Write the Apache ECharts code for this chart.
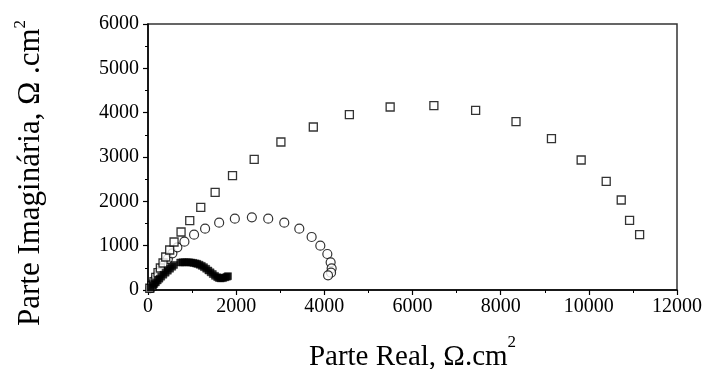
<!DOCTYPE html>
<html>
<head>
<meta charset="utf-8">
<script src="https://cdn.jsdelivr.net/npm/echarts@6/dist/echarts.min.js"></script>
<style>html,body{margin:0;padding:0;background:#fff}#c{width:707px;height:369px}</style>
</head>
<body>
<div id="c"></div>
<script>
// Open squares series (Parte Real, Parte Imaginária)
const openSquares = [
  [40,40],[90,90],[135,190],[175,286],[227,391],[280,496],[341,609],[402,744],[492,902],
  [591,1083],[750,1308],[947,1564],[1197,1865],[1523,2203],[1917,2579],[2409,2948],
  [3015,3338],[3750,3677],[4568,3954],[5493,4128],[6485,4158],[7432,4053],[8348,3797],
  [9152,3414],[9826,2932],[10394,2451],[10735,2030],[10924,1571],[11152,1248]
];
// Open circles series
const openCircles = [
  [60,40],[90,90],[130,170],[180,260],[240,360],[300,470],[370,580],[450,700],[553,827],
  [666,963],[826,1090],[1045,1248],[1295,1383],[1614,1518],[1970,1609],[2356,1639],
  [2727,1609],[3091,1518],[3432,1383],[3712,1196],[3909,1000],[4068,812],[4143,624],
  [4166,489],[4152,391],[4084,331]
];
// Filled squares series
const filledSquares = [
  [60,55],[100,95],[140,135],[180,175],[220,215],[260,255],[300,300],[350,345],[400,390],
  [450,435],[500,480],[550,525],[590,565],
  [730,620],[780,625],[830,625],[880,625],[930,625],[980,620],[1030,612],[1080,600],[1120,590],
  [1170,570],[1220,545],[1270,515],[1320,480],[1370,440],[1420,400],[1470,360],[1520,320],
  [1570,290],[1610,270],[1650,262],[1700,268],[1750,285],[1790,300],[1815,312]
];
const xTicks = [0,2000,4000,6000,8000,10000,12000];
const yTicks = [0,1000,2000,3000,4000,5000,6000];

const font = '"Liberation Serif", "Times New Roman", serif';
const chart = echarts.init(document.getElementById('c'), null, {renderer:'canvas'});
chart.setOption({
  animation: false,
  backgroundColor: '#fff',
  grid: {left:148, right:30, top:24, bottom:79, containLabel:false, outerBoundsMode:'none',
         show:true, borderColor:'#333', borderWidth:1.5, backgroundColor:'transparent'},
  xAxis: {
    type:'value', min:xTicks[0], max:xTicks[xTicks.length-1], interval:2000,
    name:'{t|Parte Real, Ω.cm}{s|2}', nameLocation:'middle', nameGap:44,
    nameTextStyle:{rich:{
      t:{fontFamily:font, fontSize:29, color:'#000'},
      s:{fontFamily:font, fontSize:17, color:'#000', padding:[0,0,30,0]}
    }},
    axisLine:{show:true, onZero:false, lineStyle:{color:'#000', width:1.5}},
    axisTick:{show:true, inside:false, length:5, lineStyle:{color:'#000', width:1.2}},
    minorTick:{show:true, splitNumber:2, length:3, lineStyle:{color:'#000', width:1}},
    axisLabel:{fontFamily:font, fontSize:20, color:'#000', margin:7, formatter:v => String(v)},
    splitLine:{show:false}
  },
  yAxis: {
    type:'value', min:yTicks[0], max:yTicks[yTicks.length-1], interval:1000,
    name:'{t|Parte Imaginária, Ω .cm}{s|2}', nameLocation:'middle', nameGap:98, nameRotate:90,
    nameTextStyle:{padding:[0,32,0,0], rich:{
      t:{fontFamily:font, fontSize:31, color:'#000'},
      s:{fontFamily:font, fontSize:17, color:'#000', padding:[0,0,21,0]}
    }},
    axisLine:{show:true, onZero:false, lineStyle:{color:'#000', width:1.5}},
    axisTick:{show:true, inside:false, length:5, lineStyle:{color:'#000', width:1.2}},
    minorTick:{show:true, splitNumber:2, length:3, lineStyle:{color:'#000', width:1}},
    axisLabel:{fontFamily:font, fontSize:20, color:'#000', margin:9, formatter:v => String(v)},
    splitLine:{show:false}
  },
  series: [
    {type:'scatter', data:openCircles, symbol:'circle', symbolSize:9,
     itemStyle:{color:'#fff', borderColor:'#000', borderWidth:1.2}},
    {type:'scatter', data:openSquares, symbol:'rect', symbolSize:8,
     itemStyle:{color:'#fff', borderColor:'#000', borderWidth:1.3}},
    {type:'scatter', data:filledSquares, symbol:'rect', symbolSize:7,
     itemStyle:{color:'#000', borderColor:'#000', borderWidth:0.5}}
  ]
});
</script>
</body>
</html>
